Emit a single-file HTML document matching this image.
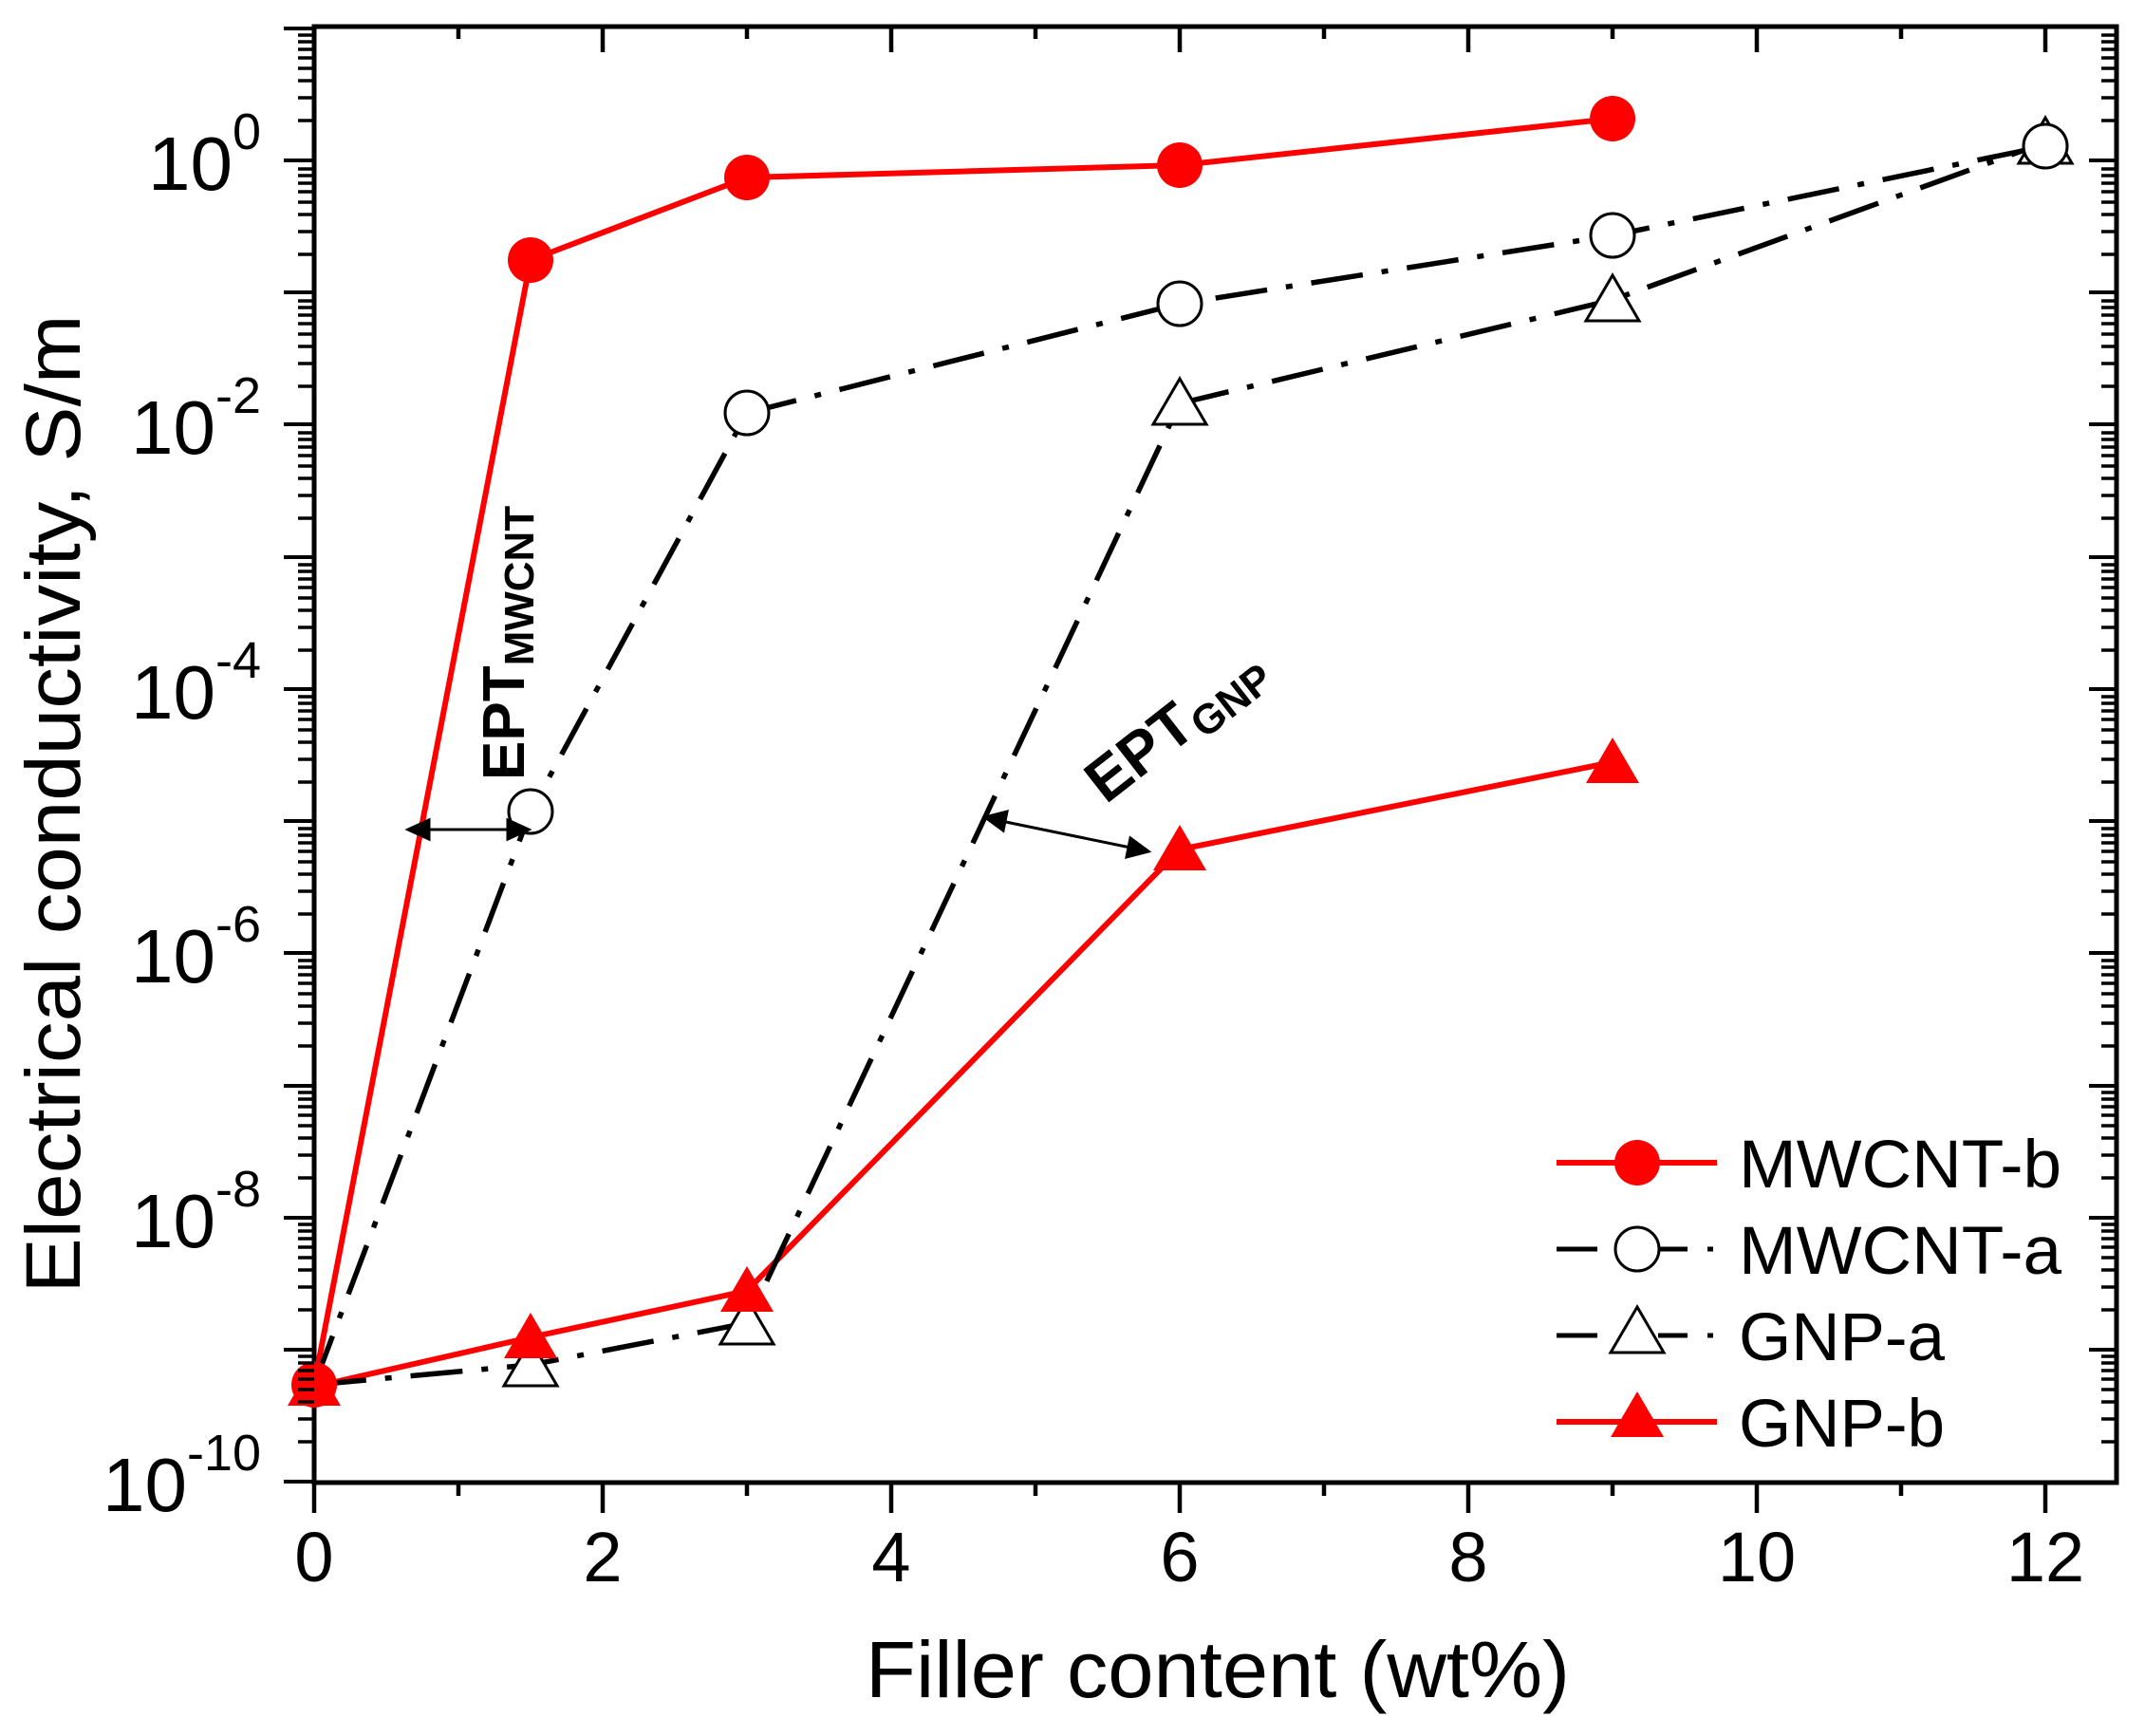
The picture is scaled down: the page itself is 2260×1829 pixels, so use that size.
<!DOCTYPE html>
<html><head><meta charset="utf-8"><style>
html,body{margin:0;padding:0;background:#fff;}
svg{display:block;}
text{font-family:"Liberation Sans",Arial,sans-serif;}
</style></head><body>
<svg width="2260" height="1829" viewBox="0 0 2260 1829" xmlns="http://www.w3.org/2000/svg">
<rect x="331" y="28" width="1899" height="1534" fill="none" stroke="#000" stroke-width="5"/>
<g stroke="#000" stroke-width="4.5">
<line x1="331" y1="1562" x2="331" y2="1594"/><line x1="635" y1="1562" x2="635" y2="1594"/><line x1="939" y1="1562" x2="939" y2="1594"/><line x1="1243" y1="1562" x2="1243" y2="1594"/><line x1="1547" y1="1562" x2="1547" y2="1594"/><line x1="1851" y1="1562" x2="1851" y2="1594"/><line x1="2155" y1="1562" x2="2155" y2="1594"/>
<line x1="483" y1="1562" x2="483" y2="1576"/><line x1="787" y1="1562" x2="787" y2="1576"/><line x1="1091" y1="1562" x2="1091" y2="1576"/><line x1="1395" y1="1562" x2="1395" y2="1576"/><line x1="1699" y1="1562" x2="1699" y2="1576"/><line x1="2003" y1="1562" x2="2003" y2="1576"/>
<line x1="635" y1="28" x2="635" y2="55"/><line x1="939" y1="28" x2="939" y2="55"/><line x1="1243" y1="28" x2="1243" y2="55"/><line x1="1547" y1="28" x2="1547" y2="55"/><line x1="1851" y1="28" x2="1851" y2="55"/><line x1="2155" y1="28" x2="2155" y2="55"/>
<line x1="483" y1="28" x2="483" y2="41"/><line x1="787" y1="28" x2="787" y2="41"/><line x1="1091" y1="28" x2="1091" y2="41"/><line x1="1395" y1="28" x2="1395" y2="41"/><line x1="1699" y1="28" x2="1699" y2="41"/><line x1="2003" y1="28" x2="2003" y2="41"/>
</g>

<g fill="none" stroke-linejoin="round">
<polyline points="331,1459 559,274 787,187 1243,174 1699,125" stroke="#f00" stroke-width="6"/>
<polyline points="331,1461 559,1409 787,1360 1243,895 1699,803" stroke="#f00" stroke-width="6"/>
<polyline points="331,1459 559,855 787,435 1243,320 1699,248 2155,154" stroke="#000" stroke-width="5.5" stroke-dasharray="55 20 7 20"/>
<polyline points="331,1459 559,1438 787,1394 1243,425 1699,316 2155,150" stroke="#000" stroke-width="5.5" stroke-dasharray="55 20 7 20"/>
</g>
<g fill="#fff" stroke="#000" stroke-width="3">
<polygon points="559,1412 587,1460 531,1460"/>
<polygon points="787,1368 815,1416 759,1416"/>
<polygon points="1243,399 1271,447 1215,447"/>
<polygon points="1699,290 1727,338 1671,338"/>
<polygon points="2155,124 2183,172 2127,172"/>
<circle cx="559" cy="855" r="23"/><circle cx="787" cy="435" r="23"/><circle cx="1243" cy="320" r="23"/><circle cx="1699" cy="248" r="23"/><circle cx="2155" cy="154" r="23"/>
</g>
<g fill="#f00">
<polygon points="331,1433 359,1481 303,1481"/>
<polygon points="559,1383 587,1431 531,1431"/>
<polygon points="787,1334 815,1382 759,1382"/>
<polygon points="1243,869 1271,917 1215,917"/>
<polygon points="1699,777 1727,825 1671,825"/>
<circle cx="331" cy="1459" r="24"/>
<circle cx="559" cy="274" r="24"/><circle cx="787" cy="187" r="24"/><circle cx="1243" cy="174" r="24"/><circle cx="1699" cy="125" r="24"/>
</g>
<g stroke="#000" stroke-width="3" fill="#000">
<line x1="440" y1="874" x2="545" y2="874"/>
<polygon points="430,874 452,864 452,884"/>
<polygon points="557,874 535,864 535,884"/>
<line x1="1050" y1="864" x2="1196" y2="894"/>
<polygon points="1038,861 1061,855 1057,875"/>
<polygon points="1210,897 1187,903 1191,883"/>
</g>
<text transform="translate(552,822) rotate(-90)" font-size="62" font-weight="bold">EPT<tspan font-size="44" dy="10">MWCNT</tspan></text>
<text transform="translate(1165,848) rotate(-38)" font-size="64" font-weight="bold">EPT<tspan font-size="44" dy="10">GNP</tspan></text>

<g font-size="74" text-anchor="middle">
<text x="331" y="1666">0</text><text x="635" y="1666">2</text><text x="939" y="1666">4</text><text x="1243" y="1666">6</text><text x="1547" y="1666">8</text><text x="1851" y="1666">10</text><text x="2155" y="1666">12</text>
</g>
<text x="1283" y="1788" font-size="84" text-anchor="middle" textLength="742" lengthAdjust="spacingAndGlyphs">Filler content (wt%)</text>
<text transform="translate(84,847) rotate(-90)" font-size="82" text-anchor="middle" textLength="1031" lengthAdjust="spacingAndGlyphs">Electrical conductivity, S/m</text>

<g>
<line x1="1640" y1="1225" x2="1809" y2="1225" stroke="#f00" stroke-width="6"/>
<circle cx="1725" cy="1225" r="24" fill="#f00"/>
<line x1="1640" y1="1316" x2="1683" y2="1316" stroke="#000" stroke-width="5"/>
<line x1="1747" y1="1316" x2="1778" y2="1316" stroke="#000" stroke-width="5"/>
<line x1="1799" y1="1316" x2="1805" y2="1316" stroke="#000" stroke-width="5"/>
<circle cx="1725" cy="1316" r="23" fill="#fff" stroke="#000" stroke-width="3"/>
<line x1="1640" y1="1407" x2="1683" y2="1407" stroke="#000" stroke-width="5"/>
<line x1="1747" y1="1407" x2="1778" y2="1407" stroke="#000" stroke-width="5"/>
<line x1="1799" y1="1407" x2="1805" y2="1407" stroke="#000" stroke-width="5"/>
<polygon points="1725,1377 1753,1425 1697,1425" fill="#fff" stroke="#000" stroke-width="3"/>
<line x1="1640" y1="1498" x2="1809" y2="1498" stroke="#f00" stroke-width="6"/>
<polygon points="1725,1466 1753,1514 1697,1514" fill="#f00"/>
<g font-size="71">
<text x="1832" y="1251" textLength="340" lengthAdjust="spacingAndGlyphs">MWCNT-b</text>
<text x="1832" y="1342" textLength="340" lengthAdjust="spacingAndGlyphs">MWCNT-a</text>
<text x="1832" y="1433">GNP-a</text>
<text x="1832" y="1524">GNP-b</text>
</g>
</g>

<g stroke="#000" stroke-width="4">
<line x1="299" y1="169" x2="331" y2="169"/><line x1="2230" y1="169" x2="2201" y2="169"/>
<line x1="299" y1="447" x2="331" y2="447"/><line x1="2230" y1="447" x2="2201" y2="447"/>
<line x1="299" y1="726" x2="331" y2="726"/><line x1="2230" y1="726" x2="2201" y2="726"/>
<line x1="299" y1="1004" x2="331" y2="1004"/><line x1="2230" y1="1004" x2="2201" y2="1004"/>
<line x1="299" y1="1283" x2="331" y2="1283"/><line x1="2230" y1="1283" x2="2201" y2="1283"/>
<line x1="299" y1="1561" x2="331" y2="1561"/>
<line x1="299" y1="30" x2="331" y2="30"/><line x1="299" y1="308" x2="331" y2="308"/><line x1="2230" y1="308" x2="2201" y2="308"/>
<line x1="299" y1="587" x2="331" y2="587"/><line x1="2230" y1="587" x2="2201" y2="587"/>
<line x1="299" y1="865" x2="331" y2="865"/><line x1="2230" y1="865" x2="2201" y2="865"/>
<line x1="299" y1="1144" x2="331" y2="1144"/><line x1="2230" y1="1144" x2="2201" y2="1144"/>
<line x1="299" y1="1422" x2="331" y2="1422"/><line x1="2230" y1="1422" x2="2201" y2="1422"/>
</g>
<g font-size="80" text-anchor="end">
<text x="275" y="200">10<tspan font-size="54" dy="-43">0</tspan></text>
<text x="275" y="478">10<tspan font-size="54" dy="-43">-2</tspan></text>
<text x="275" y="757">10<tspan font-size="54" dy="-43">-4</tspan></text>
<text x="275" y="1035">10<tspan font-size="54" dy="-43">-6</tspan></text>
<text x="275" y="1314">10<tspan font-size="54" dy="-43">-8</tspan></text>
<text x="275" y="1592">10<tspan font-size="54" dy="-43">-10</tspan></text>
</g>
<g stroke="#000" stroke-width="3.5">
<path d="
M314 1519H331M314 1495H331M314 1477H331M314 1464H331M314 1453H331M314 1444H331M314 1436H331M314 1429H331
M314 1380H331M314 1356H331M314 1338H331M314 1325H331M314 1314H331M314 1305H331M314 1297H331M314 1290H331
M314 1241H331M314 1217H331M314 1199H331M314 1186H331M314 1175H331M314 1166H331M314 1158H331M314 1151H331
M314 1102H331M314 1078H331M314 1060H331M314 1047H331M314 1036H331M314 1027H331M314 1019H331M314 1012H331
M314 963H331M314 939H331M314 921H331M314 908H331M314 897H331M314 888H331M314 880H331M314 873H331
M314 824H331M314 800H331M314 782H331M314 769H331M314 758H331M314 749H331M314 741H331M314 734H331
M314 685H331M314 661H331M314 643H331M314 630H331M314 619H331M314 610H331M314 602H331M314 595H331
M314 546H331M314 522H331M314 504H331M314 491H331M314 480H331M314 471H331M314 463H331M314 456H331
M314 407H331M314 383H331M314 365H331M314 352H331M314 341H331M314 332H331M314 324H331M314 317H331
M314 268H331M314 244H331M314 226H331M314 213H331M314 202H331M314 193H331M314 185H331M314 178H331
M314 127H331M314 103H331M314 85H331M314 72H331M314 61H331M314 52H331M314 44H331M314 37H331
M2214 1519H2230M2214 1495H2230M2214 1477H2230M2214 1464H2230M2214 1453H2230M2214 1444H2230M2214 1436H2230M2214 1429H2230
M2214 1380H2230M2214 1356H2230M2214 1338H2230M2214 1325H2230M2214 1314H2230M2214 1305H2230M2214 1297H2230M2214 1290H2230
M2214 1241H2230M2214 1217H2230M2214 1199H2230M2214 1186H2230M2214 1175H2230M2214 1166H2230M2214 1158H2230M2214 1151H2230
M2214 1102H2230M2214 1078H2230M2214 1060H2230M2214 1047H2230M2214 1036H2230M2214 1027H2230M2214 1019H2230M2214 1012H2230
M2214 963H2230M2214 939H2230M2214 921H2230M2214 908H2230M2214 897H2230M2214 888H2230M2214 880H2230M2214 873H2230
M2214 824H2230M2214 800H2230M2214 782H2230M2214 769H2230M2214 758H2230M2214 749H2230M2214 741H2230M2214 734H2230
M2214 685H2230M2214 661H2230M2214 643H2230M2214 630H2230M2214 619H2230M2214 610H2230M2214 602H2230M2214 595H2230
M2214 546H2230M2214 522H2230M2214 504H2230M2214 491H2230M2214 480H2230M2214 471H2230M2214 463H2230M2214 456H2230
M2214 407H2230M2214 383H2230M2214 365H2230M2214 352H2230M2214 341H2230M2214 332H2230M2214 324H2230M2214 317H2230
M2214 268H2230M2214 244H2230M2214 226H2230M2214 213H2230M2214 202H2230M2214 193H2230M2214 185H2230M2214 178H2230
M2214 127H2230M2214 103H2230M2214 85H2230M2214 72H2230M2214 61H2230M2214 52H2230M2214 44H2230M2214 37H2230"/>
</g>
</svg>
</body></html>
